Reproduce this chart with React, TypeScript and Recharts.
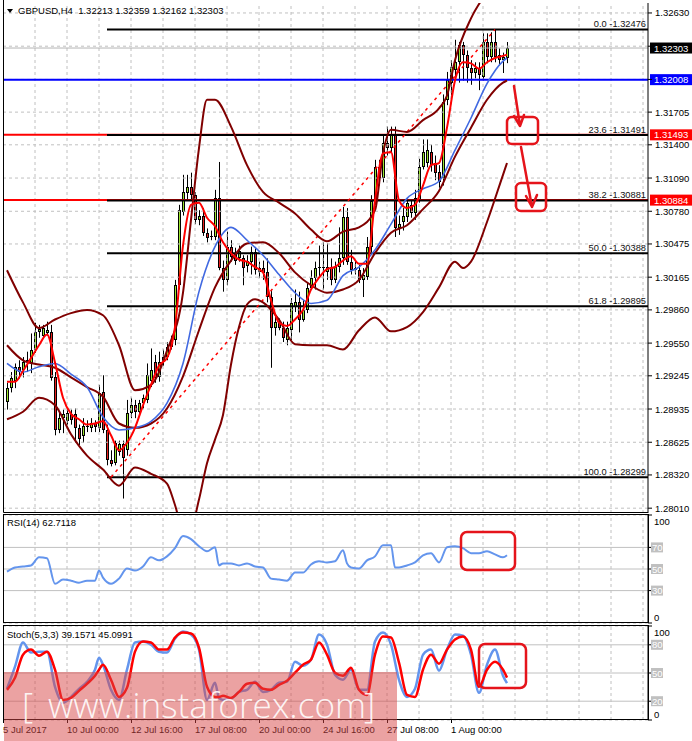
import { FC } from 'react';
import { ComposedChart, Bar, Line, XAxis, YAxis, ReferenceLine } from 'recharts';

const FONT = '"Liberation Sans", Arial, sans-serif';

// GBPUSD H4, one entry per bar (bar 0 = 5 Jul 2017)
const opens = [
  1.2900, 1.2913, 1.2920, 1.2933, 1.2930, 1.2937, 1.2936, 1.2949, 1.2965, 1.2962,
  1.2964, 1.2965, 1.2923, 1.2874, 1.2885, 1.2882, 1.2889, 1.2889, 1.2876, 1.2868,
  1.2878, 1.2876, 1.2880, 1.2876, 1.2909, 1.2874, 1.2846, 1.2843, 1.2853, 1.2861,
  1.2855, 1.2890, 1.2897, 1.2891, 1.2899, 1.2902, 1.2920, 1.2937, 1.2923, 1.2937,
  1.2942, 1.2951, 1.2958, 1.3009, 1.3077, 1.3095, 1.3101, 1.3093, 1.3070, 1.3074,
  1.3058, 1.3054, 1.3054, 1.3090, 1.3025, 1.3014, 1.3045, 1.3039, 1.3034, 1.3034,
  1.3027, 1.3031, 1.3040, 1.3021, 1.3025, 1.3021, 1.2998, 1.2969, 1.2975, 1.2969,
  1.2958, 1.2967, 1.2989, 1.2993, 1.2977, 1.2986, 1.3006, 1.3016, 1.3025, 1.3026,
  1.3021, 1.3026, 1.3014, 1.3026, 1.3034, 1.3073, 1.3031, 1.3023, 1.3023, 1.3014,
  1.3017, 1.3045, 1.3088, 1.3119, 1.3109, 1.3142, 1.3137, 1.3149, 1.3062, 1.3068,
  1.3073, 1.3084, 1.3076, 1.3088, 1.3119, 1.3123, 1.3133, 1.3123, 1.3115, 1.3109,
  1.3182, 1.3198, 1.3210, 1.3217, 1.3233, 1.3224, 1.3212, 1.3207, 1.3212, 1.3203,
  1.3236, 1.3222, 1.3236, 1.3224, 1.3219, 1.32213,
];
const highs = [
  1.2918, 1.2928, 1.2936, 1.2939, 1.2942, 1.2947, 1.2964, 1.2974, 1.2972, 1.2972,
  1.2975, 1.2972, 1.2928, 1.2891, 1.2893, 1.2894, 1.2893, 1.2894, 1.2879, 1.2885,
  1.2883, 1.2885, 1.2883, 1.2916, 1.2925, 1.2879, 1.2855, 1.2864, 1.2864, 1.2864,
  1.2902, 1.2904, 1.2902, 1.2902, 1.2907, 1.2936, 1.2950, 1.2944, 1.2947, 1.2949,
  1.2956, 1.2962, 1.3014, 1.3084, 1.3112, 1.3112, 1.3114, 1.3096, 1.3079, 1.3081,
  1.3062, 1.3060, 1.3098, 1.3124, 1.3032, 1.3059, 1.3051, 1.3044, 1.3046, 1.3037,
  1.3037, 1.3045, 1.3044, 1.3031, 1.3032, 1.3034, 1.3005, 1.2981, 1.2978, 1.2975,
  1.2975, 1.2997, 1.3005, 1.3003, 1.2995, 1.3011, 1.3023, 1.3031, 1.3046, 1.3049,
  1.3048, 1.3034, 1.3031, 1.3063, 1.3082, 1.3081, 1.3042, 1.3032, 1.3028, 1.3025,
  1.3054, 1.3093, 1.3126, 1.3126, 1.3149, 1.3157, 1.3157, 1.3157, 1.3074, 1.3081,
  1.3090, 1.3088, 1.3098, 1.3127, 1.3145, 1.3145, 1.3140, 1.3130, 1.3121, 1.3187,
  1.3208, 1.3219, 1.3238, 1.3236, 1.3236, 1.3228, 1.3219, 1.3217, 1.3217, 1.3244,
  1.3244, 1.3245, 1.32476, 1.3230, 1.3226, 1.32359,
];
const lows = [
  1.2893, 1.2909, 1.2913, 1.2922, 1.2923, 1.2928, 1.2927, 1.2946, 1.2960, 1.2960,
  1.2962, 1.2920, 1.2869, 1.2871, 1.2871, 1.2879, 1.2879, 1.2862, 1.2860, 1.2862,
  1.2872, 1.2872, 1.2872, 1.2872, 1.2871, 1.2841, 1.2840, 1.2841, 1.2850, 1.2810,
  1.2850, 1.2885, 1.2885, 1.2887, 1.2894, 1.2899, 1.2914, 1.2918, 1.2919, 1.2934,
  1.2939, 1.2949, 1.2953, 1.3005, 1.3074, 1.3088, 1.3088, 1.3066, 1.3065, 1.3055,
  1.3049, 1.3051, 1.3051, 1.3023, 1.3003, 1.3009, 1.3031, 1.3028, 1.3031, 1.3009,
  1.3021, 1.3019, 1.3019, 1.3016, 1.3014, 1.2993, 1.2932, 1.2962, 1.2967, 1.2956,
  1.2953, 1.2958, 1.2984, 1.2965, 1.2975, 1.2983, 1.3005, 1.3005, 1.3017, 1.3005,
  1.3014, 1.3009, 1.3011, 1.3021, 1.3028, 1.3028, 1.3019, 1.3019, 1.3011, 1.2998,
  1.3014, 1.3040, 1.3084, 1.3102, 1.3105, 1.3130, 1.3133, 1.3054, 1.3056, 1.3060,
  1.3068, 1.3072, 1.3070, 1.3086, 1.3117, 1.3119, 1.3115, 1.3107, 1.3100, 1.3102,
  1.3177, 1.3186, 1.3200, 1.3198, 1.3200, 1.3198, 1.3196, 1.3202, 1.3191, 1.3200,
  1.3216, 1.3217, 1.3217, 1.3214, 1.3207, 1.32162,
];
const closes = [
  1.2913, 1.2922, 1.2933, 1.2928, 1.2937, 1.2939, 1.2949, 1.2965, 1.2968, 1.2969,
  1.2967, 1.2922, 1.2874, 1.2885, 1.2889, 1.2890, 1.2883, 1.2876, 1.2866, 1.2878,
  1.2877, 1.2880, 1.2877, 1.2908, 1.2874, 1.2846, 1.2842, 1.2862, 1.2861, 1.2848,
  1.2890, 1.2897, 1.2891, 1.2899, 1.2904, 1.2925, 1.2930, 1.2922, 1.2937, 1.2942,
  1.2951, 1.2956, 1.3009, 1.3079, 1.3096, 1.3101, 1.3093, 1.3070, 1.3074, 1.3058,
  1.3053, 1.3055, 1.3090, 1.3025, 1.3014, 1.3045, 1.3035, 1.3032, 1.3041, 1.3025,
  1.3032, 1.3040, 1.3023, 1.3025, 1.3020, 1.2998, 1.2969, 1.2975, 1.2969, 1.2960,
  1.2969, 1.2992, 1.2993, 1.2977, 1.2986, 1.3006, 1.3016, 1.3025, 1.3026, 1.3025,
  1.3026, 1.3014, 1.3026, 1.3034, 1.3073, 1.3031, 1.3023, 1.3025, 1.3014, 1.3019,
  1.3045, 1.3088, 1.3119, 1.3109, 1.3142, 1.3137, 1.3149, 1.3062, 1.3066, 1.3074,
  1.3086, 1.3076, 1.3090, 1.3119, 1.3133, 1.3135, 1.3121, 1.3114, 1.3105, 1.3180,
  1.3200, 1.3213, 1.3217, 1.3233, 1.3224, 1.3212, 1.3207, 1.3212, 1.3205, 1.3236,
  1.3222, 1.3236, 1.3222, 1.3219, 1.3222, 1.32303,
];

// moving averages and Bollinger bands, read at sampled bars
const redMaBars = [0, 2, 4, 6, 8, 10, 12, 14, 16, 18, 20, 22, 24, 26, 28, 30, 32, 34, 36, 38, 40, 42, 44, 46, 48, 50, 52, 54, 56, 58, 60, 62, 64, 66, 68, 70, 72, 74, 76, 78, 80, 82, 84, 86, 88, 90, 92, 94, 96, 98, 100, 102, 104, 106, 108, 110, 112, 114, 116, 118, 120, 122, 124, 125];
const redMa = [
  1.2919, 1.2919, 1.2929, 1.2941, 1.2953, 1.2963, 1.2937, 1.2904, 1.2889, 1.2884,
  1.2879, 1.2880, 1.2882, 1.2869, 1.2855, 1.2862, 1.2876, 1.2897, 1.2916, 1.2934,
  1.2941, 1.2970, 1.3046, 1.3084, 1.3086, 1.3072, 1.3064, 1.3049, 1.3039, 1.3033,
  1.3031, 1.3026, 1.3021, 1.2995, 1.2974, 1.2971, 1.2977, 1.2986, 1.3005, 1.3016,
  1.3024, 1.3026, 1.3032, 1.3036, 1.3029, 1.3029, 1.3088, 1.3132, 1.3133, 1.3088,
  1.3081, 1.3084, 1.3102, 1.3121, 1.3123, 1.3156, 1.3200, 1.3217, 1.3216, 1.3211,
  1.3217, 1.3221, 1.3223, 1.3224,
];
const quarterBars = [0, 4, 8, 12, 16, 20, 24, 28, 32, 36, 40, 44, 48, 52, 56, 60, 64, 68, 72, 76, 80, 84, 88, 92, 96, 100, 104, 108, 112, 116, 120, 124, 125];
const blueMa = [
  1.2936, 1.2928, 1.2933, 1.2936, 1.2926, 1.2914, 1.2886, 1.2874, 1.2876, 1.2882,
  1.2899, 1.2936, 1.3003, 1.3045, 1.3063, 1.3051, 1.3037, 1.3019, 1.3002, 1.2992,
  1.2995, 1.3018, 1.3026, 1.3042, 1.3066, 1.3090, 1.3099, 1.3106, 1.3135, 1.3165,
  1.3197, 1.3218, 1.3221,
];
const midBand = [
  1.2953, 1.2939, 1.2935, 1.2932, 1.2923, 1.2914, 1.2905, 1.2880, 1.2876, 1.2880,
  1.2894, 1.2924, 1.2967, 1.3007, 1.3032, 1.3048, 1.3049, 1.3039, 1.3021, 1.3009,
  1.3002, 1.3005, 1.3014, 1.3039, 1.3058, 1.3065, 1.3080, 1.3097, 1.3129, 1.3156,
  1.3182, 1.3198, 1.3200,
];
const upperBars = [0, 4, 8, 12, 16, 20, 24, 28, 32, 36, 40, 44, 46, 48, 50, 52, 56, 60, 64, 68, 72, 76, 80, 84, 88, 92, 94, 96, 100, 104, 108, 110, 112, 116, 120, 124, 125];
const upperBand = [
  1.3023, 1.2993, 1.2969, 1.2977, 1.2983, 1.2986, 1.2981, 1.2953, 1.2911, 1.2916,
  1.2948, 1.3002, 1.3070, 1.3137, 1.3182, 1.3182, 1.3157, 1.3121, 1.3096, 1.3086,
  1.3076, 1.3061, 1.3050, 1.3059, 1.3063, 1.3079, 1.3132, 1.3154, 1.3152, 1.3163,
  1.3174, 1.3186, 1.3219, 1.3258, 1.3283, 1.3308, 1.3312,
];
const lowerBars = [0, 4, 8, 12, 16, 20, 24, 28, 32, 36, 40, 42, 44, 46, 48, 50, 52, 54, 56, 58, 60, 62, 64, 68, 72, 76, 80, 84, 88, 92, 96, 100, 104, 108, 112, 114, 116, 120, 124, 125];
const lowerBand = [
  1.2884, 1.2891, 1.2904, 1.2897, 1.2870, 1.2850, 1.2837, 1.2822, 1.2839, 1.2833,
  1.2824, 1.2804, 1.2781, 1.2783, 1.2809, 1.2843, 1.2865, 1.2888, 1.2935, 1.2970,
  1.2991, 1.2996, 1.2993, 1.2977, 1.2954, 1.2953, 1.2953, 1.2949, 1.2967, 1.2979,
  1.2966, 1.2970, 1.2984, 1.3007, 1.3031, 1.3025, 1.3031, 1.3068, 1.3112, 1.3123,
];

// RSI(14)
const rsiBars = [0, 2, 4, 6, 8, 10, 12, 14, 16, 18, 20, 22, 23, 24, 26, 28, 30, 32, 34, 36, 38, 40, 42, 44, 46, 48, 50, 52, 53, 54, 56, 58, 60, 62, 64, 66, 68, 70, 72, 74, 76, 78, 80, 82, 84, 85, 86, 88, 90, 92, 94, 96, 97, 98, 100, 102, 104, 106, 108, 110, 112, 114, 116, 118, 120, 122, 124, 125];
const rsi = [
  47.6, 51.4, 52.4, 53.3, 60.8, 59.9, 36.3, 40.2, 39.2, 37.3, 39.2, 39.2, 48.6, 42.0,
  36.3, 41.1, 50.5, 48.6, 52.4, 60.8, 58.0, 61.7, 69.3, 80.5, 77.7, 71.1, 66.4, 70.2,
  53.3, 55.2, 55.2, 53.3, 55.2, 52.4, 51.4, 41.1, 40.2, 39.2, 46.7, 46.7, 54.2, 57.1,
  56.1, 57.1, 67.4, 55.2, 51.4, 50.5, 58.0, 61.7, 72.1, 72.1, 51.4, 51.4, 53.3, 56.1,
  62.7, 64.6, 56.1, 70.2, 71.1, 69.3, 64.6, 64.6, 66.4, 63.6, 60.8, 62.7118,
];

// Stochastic(5,3,3)
const stochBars = [0, 2, 4, 6, 8, 10, 12, 14, 16, 18, 20, 22, 23, 24, 26, 28, 30, 32, 34, 36, 38, 40, 42, 44, 46, 48, 50, 52, 53, 54, 56, 58, 60, 62, 64, 66, 68, 70, 72, 74, 76, 78, 80, 82, 84, 86, 88, 90, 92, 94, 96, 98, 100, 102, 104, 106, 108, 110, 112, 114, 116, 118, 120, 122, 124, 125];
const stochMain = [
  33.2, 56.7, 82.4, 71.7, 72.7, 72.7, 35.3, 18.2, 24.6, 33.2, 40.6, 53.5, 66.3,
  58.8, 32.1, 21.4, 53.5, 82.4, 83.4, 80.2, 72.7, 71.7, 86.6, 94.1, 90.9, 74.9, 21.4, 39.6,
  23.5,
  21.4, 22.5, 29.9, 32.1, 40.6, 29.9, 32.1, 39.6, 40.6, 62.0, 57.8, 64.2, 90.9, 80.2, 48.1,
  42.8, 53.5, 32.1, 32.1, 83.4, 93.0, 80.2, 42.8, 24.6, 33.2, 69.5, 74.9, 52.4, 74.9, 90.9,
  89.8, 69.5, 28.9, 58.8, 74.9, 47.1, 39.1571,
];
const stochSignal = [
  32.1, 44.9, 69.5, 74.9, 68.4, 72.7, 53.5, 21.4, 23.5, 31.0, 38.5, 47.1, 53.5,
  58.8, 42.8, 24.6, 34.2, 72.7, 83.4, 82.4, 74.9, 74.9, 87.7, 93.0, 92.0, 77.0, 35.3, 24.6,
  24.6,
  25.7, 23.5, 29.9, 38.5, 39.6, 33.2, 32.1, 37.4, 41.7, 50.3, 58.8, 64.2, 82.4, 69.5, 50.3,
  47.1, 55.6, 32.1, 26.7, 69.5, 88.8, 87.7, 61.0, 26.7, 24.6, 53.5, 69.5, 59.9, 74.9, 85.6,
  88.8, 74.9, 35.3, 53.5, 62.0, 53.5, 45.0991,
];

const priceTicks = [1.3263, 1.3232, 1.3201, 1.31705, 1.314, 1.3109, 1.3078, 1.30475, 1.30165, 1.2986, 1.2955, 1.29245, 1.28935, 1.28625, 1.2832, 1.2801];
const coveredTicks = [1.3232, 1.3201];
const gridBars = [7, 15, 23, 31, 39, 47, 55, 63, 71, 79, 87, 95, 103, 111, 119, 127, 135, 143, 151, 159];
const timeTicks = [-1, 15, 31, 47, 63, 79, 95, 111];
const timeLabels = ['5 Jul 2017', '10 Jul 00:00', '12 Jul 16:00', '17 Jul 08:00', '20 Jul 00:00', '24 Jul 16:00', '27 Jul 08:00', '1 Aug 00:00'];

const fibStart = 25;
const fibLevels = [
  { price: 1.32476, text: '0.0 -1.32476' },
  { price: 1.31491, text: '23.6 -1.31491' },
  { price: 1.30881, text: '38.2 -1.30881' },
  { price: 1.30388, text: '50.0 -1.30388' },
  { price: 1.29895, text: '61.8 -1.29895' },
  { price: 1.28299, text: '100.0 -1.28299' },
];

const rows: any[] = opens.map((open, i) => ({ bar: i, open, high: highs[i], low: lows[i], close: closes[i] }));
const put = (key: string, bars: number[], values: number[]) =>
  bars.forEach((b, k) => {
    rows[b][key] = values[k];
  });
put('redMa', redMaBars, redMa);
put('blueMa', quarterBars, blueMa);
put('mid', quarterBars, midBand);
put('upper', upperBars, upperBand);
put('lower', lowerBars, lowerBand);
put('rsi', rsiBars, rsi);
put('k', stochBars, stochMain);
put('d', stochBars, stochSignal);

const X_DOMAIN: [number, number] = [-1, 160.25];

const Candle: FC<any> = ({ x, y, width, height, payload }) => {
  const cx = Math.round(x + width / 2);
  const top = Math.min(y, y + height);
  const h = Math.abs(height);
  const { open, close, high, low } = payload;
  const span = high - low || 1e-9;
  const yOf = (v: number) => top + ((high - v) / span) * h;
  const bTop = Math.round(yOf(Math.max(open, close)));
  const bBot = Math.round(yOf(Math.min(open, close)));
  const bh = Math.max(1, bBot - bTop);
  const up = close >= open;
  return (
    <g>
      <rect x={cx} y={top} width={1} height={h} fill="#000" />
      <rect x={cx - 1} y={bTop} width={3} height={bh} fill="#000" />
      {bh > 2 && <rect x={cx} y={bTop + 1} width={1} height={bh - 2} fill={up ? '#9be52e' : '#e8201e'} />}
    </g>
  );
};

const PriceTick: FC<any> = ({ x, y, payload }) =>
  coveredTicks.includes(payload.value) ? (
    <g />
  ) : (
    <text x={x} y={y + 3.5} fontSize={9.5} fontFamily={FONT} fill="#000">
      {payload.value.toFixed(5)}
    </text>
  );

const PriceBox: FC<any> = ({ viewBox, text, bg }) => (
  <g>
    <rect x={viewBox.x + viewBox.width + 2} y={viewBox.y - 5.5} width={44} height={11} fill={bg} />
    <text x={viewBox.x + viewBox.width + 6} y={viewBox.y + 3.5} fontSize={9.5} fontFamily={FONT} fill="#fff">
      {text}
    </text>
  </g>
);

const FibLabel: FC<any> = ({ viewBox, text }) => (
  <text x={viewBox.x + viewBox.width - 2} y={viewBox.y - 2.5} textAnchor="end" fontSize={9.3} fontFamily={FONT} fill="#111">
    {text}
  </text>
);

const LevelTick: FC<any> = ({ x, y, payload }) => {
  const v = payload.value;
  if (v !== 0 && v !== 100) {
    return (
      <g>
        <rect x={x - 3} y={y - 5} width={12} height={10} fill="#c0c0c0" />
        <text x={x - 2} y={y + 3.5} fontSize={9.5} fontFamily={FONT} fill="#fff">
          {v}
        </text>
      </g>
    );
  }
  return (
    <text x={x} y={y + (v === 100 ? 10 : -2)} fontSize={9.5} fontFamily={FONT} fill="#000">
      {v}
    </text>
  );
};

const TimeTick: FC<any> = ({ x, y, payload }) => (
  <g>
    <line x1={x + 0.5} y1={y} x2={x + 0.5} y2={y + 3} stroke="#000" />
    <text x={x} y={y + 13} fontSize={9.5} fontFamily={FONT} fill="#000">
      {timeLabels[timeTicks.indexOf(payload.value)]}
    </text>
  </g>
);

const grid = (axis: 'x' | 'y', values: number[]) =>
  values.map((v) =>
    axis === 'x' ? (
      <ReferenceLine key={`gx${v}`} x={v} stroke="#c0c0c0" strokeDasharray="3 3" />
    ) : (
      <ReferenceLine key={`gy${v}`} y={v} stroke="#c0c0c0" strokeDasharray="3 3" />
    ),
  );

const lineProps = { dot: false, activeDot: false, connectNulls: true, isAnimationActive: false, type: 'monotone' as const };

export default function App() {
  return (
    <div style={{ position: 'fixed', left: 0, top: 0, width: 692, height: 741, background: '#fff', overflow: 'hidden' }}>
      <div style={{ position: 'absolute', left: 0, top: 0 }}>
        <ComposedChart width={692} height={515} data={rows} margin={{ top: 3, right: 0, bottom: 2, left: 3 }}>
          <XAxis dataKey="bar" type="number" domain={X_DOMAIN} allowDataOverflow hide />
          <YAxis
            orientation="right"
            width={44}
            domain={[1.27965, 1.32723]}
            allowDataOverflow
            ticks={priceTicks}
            interval={0}
            tick={<PriceTick />}
            tickSize={4}
            tickMargin={3}
            tickLine={{ stroke: '#000' }}
            axisLine={{ stroke: '#000' }}
          />
          {grid('x', gridBars)}
          {grid('y', priceTicks)}
          <Bar dataKey={(d: any) => [d.low, d.high]} barSize={3} shape={<Candle />} isAnimationActive={false} />
          <ReferenceLine y={1.32303} stroke="#b4b4b4" label={<PriceBox text="1.32303" bg="#000" />} />
          <ReferenceLine y={1.32008} stroke="#0000ff" strokeWidth={2} label={<PriceBox text="1.32008" bg="#0000ff" />} />
          <ReferenceLine y={1.31493} stroke="#ff0000" strokeWidth={2} label={<PriceBox text="1.31493" bg="#ff0000" />} />
          <ReferenceLine y={1.30884} stroke="#ff0000" strokeWidth={2} label={<PriceBox text="1.30884" bg="#ff0000" />} />
          {fibLevels.map((f) => (
            <ReferenceLine
              key={f.text}
              segment={[{ x: fibStart, y: f.price }, { x: X_DOMAIN[1], y: f.price }]}
              stroke="#000"
              strokeWidth={2}
              label={<FibLabel text={f.text} />}
            />
          ))}
          <ReferenceLine
            segment={[{ x: 26, y: 1.28299 }, { x: 122, y: 1.32476 }]}
            stroke="#ff0000"
            strokeWidth={1.5}
            strokeDasharray="3 4"
          />
          <Line dataKey="upper" stroke="#800000" strokeWidth={2} {...lineProps} />
          <Line dataKey="mid" stroke="#800000" strokeWidth={2} {...lineProps} />
          <Line dataKey="lower" stroke="#800000" strokeWidth={2} {...lineProps} />
          <Line dataKey="blueMa" stroke="#4169e1" strokeWidth={1.6} {...lineProps} />
          <Line dataKey="redMa" stroke="#ff0000" strokeWidth={2} {...lineProps} />
        </ComposedChart>
      </div>

      <div style={{ position: 'absolute', left: 0, top: 514 }}>
        <ComposedChart width={692} height={110} data={rows} margin={{ top: 1, right: 0, bottom: 1, left: 3 }}>
          <XAxis dataKey="bar" type="number" domain={X_DOMAIN} allowDataOverflow hide />
          <YAxis
            orientation="right"
            width={44}
            domain={[0, 100]}
            ticks={[0, 30, 50, 70, 100]}
            interval={0}
            tick={<LevelTick />}
            tickSize={4}
            tickMargin={2}
            tickLine={{ stroke: '#000' }}
            axisLine={{ stroke: '#000' }}
          />
          {grid('x', gridBars)}
          {grid('y', [0, 100])}
          <ReferenceLine y={70} stroke="#c0c0c0" />
          <ReferenceLine y={50} stroke="#c0c0c0" />
          <ReferenceLine y={30} stroke="#c0c0c0" />
          <Line dataKey="rsi" stroke="#6495ed" strokeWidth={2} {...lineProps} />
        </ComposedChart>
      </div>

      <div style={{ position: 'absolute', left: 0, top: 625 }}>
        <ComposedChart width={692} height={116} data={rows} margin={{ top: 1, right: 0, bottom: 0, left: 3 }}>
          <XAxis
            dataKey="bar"
            type="number"
            domain={X_DOMAIN}
            allowDataOverflow
            ticks={timeTicks}
            interval={0}
            height={21}
            tickSize={0}
            tickMargin={0}
            axisLine={false}
            tick={<TimeTick />}
          />
          <YAxis
            orientation="right"
            width={44}
            domain={[0, 100]}
            ticks={[0, 20, 50, 80, 100]}
            interval={0}
            tick={<LevelTick />}
            tickSize={4}
            tickMargin={2}
            tickLine={{ stroke: '#000' }}
            axisLine={{ stroke: '#000' }}
          />
          {grid('x', gridBars)}
          {grid('y', [0, 100])}
          <ReferenceLine y={80} stroke="#c0c0c0" />
          <ReferenceLine y={50} stroke="#c0c0c0" />
          <ReferenceLine y={20} stroke="#c0c0c0" />
          <Line dataKey="k" stroke="#6495ed" strokeWidth={2.5} {...lineProps} />
          <Line dataKey="d" stroke="#ff0000" strokeWidth={2.5} {...lineProps} />
        </ComposedChart>
      </div>

      <svg width={692} height={741} style={{ position: 'absolute', left: 0, top: 0, pointerEvents: 'none' }}>
        <g fill="none" stroke="#000" strokeWidth={1}>
          <path d="M3.5,0 V512.5 H648" />
          <rect x={3.5} y={514.5} width={645} height={108} />
          <rect x={3.5} y={625.5} width={645} height={94} />
        </g>
        <path d="M7,9 L13,9 L10,13 Z" fill="#000" />
        <text x={18} y={14} fontSize={9.5} fontFamily={FONT} fill="#000" style={{ whiteSpace: 'pre' }}>
          GBPUSD,H4  1.32213 1.32359 1.32162 1.32303
        </text>
        <text x={7} y={526} fontSize={9.5} fontFamily={FONT} fill="#000">
          RSI(14) 62.7118
        </text>
        <text x={7} y={638} fontSize={9.5} fontFamily={FONT} fill="#000">
          Stoch(5,3,3) 39.1571 45.0991
        </text>
        <g stroke="#e5141b" strokeWidth={2.5} fill="none" strokeLinecap="round" strokeLinejoin="round">
          <rect x={461} y={532} width={54} height={38} rx={6} />
          <rect x={479} y={644} width={47} height={44} rx={6} />
          <rect x={507} y={117} width={31} height={27} rx={5} />
          <rect x={516} y={183} width={30} height={28} rx={5} />
          <path d="M514,86 L520,126 M514,116 L520,126 L524,115" />
          <path d="M521,147 L532,207 M526,196 L532,207 L537,195" />
        </g>
        <rect x={4} y={672} width={393} height={69} fill="rgba(215,70,70,0.5)" />
        <g fill="#fff" fillOpacity={0.9} fontFamily='"Open Sans", sans-serif' fontWeight={300} fontSize={35}>
          <text x={22} y={718}>[</text>
          <text x={48} y={718} textLength={318} lengthAdjust="spacingAndGlyphs">
            www.instaforex.com
          </text>
          <text x={364} y={718}>]</text>
        </g>
      </svg>
    </div>
  );
}
